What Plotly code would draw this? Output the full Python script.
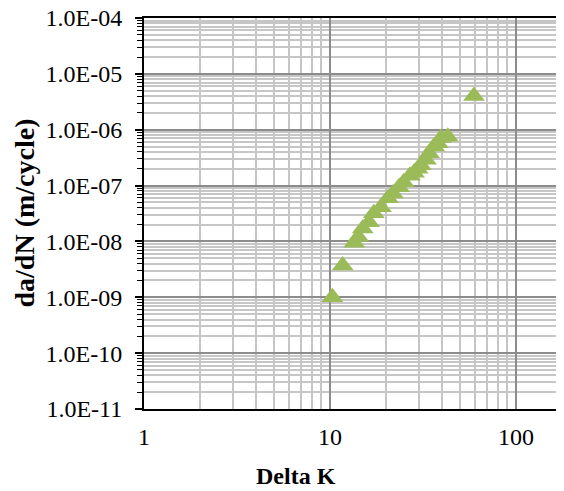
import plotly.graph_objects as go

delta_k = [10.3, 11.7, 13.5, 14.2, 15.0, 16.2, 17.2, 18.8, 20.5, 21.8, 23.5, 24.9,
           26.9, 28.3, 29.6, 30.8, 32.8, 34.1, 36.3, 38.0, 39.5, 43.0, 59.4]
dadn = [1.0e-9, 3.7e-9, 9.5e-9, 1.2e-8, 1.7e-8, 2.2e-8, 3.2e-8, 4.1e-8, 5.9e-8, 7.2e-8, 9.3e-8, 1.15e-7,
        1.5e-7, 1.7e-7, 2.0e-7, 2.3e-7, 2.9e-7, 3.8e-7, 5.0e-7, 5.7e-7, 7.1e-7, 7.5e-7, 4.0e-6]

y_tickvals = [1e-4, 1e-5, 1e-6, 1e-7, 1e-8, 1e-9, 1e-10, 1e-11]
y_ticktext = ["1.0E-04", "1.0E-05", "1.0E-06", "1.0E-07", "1.0E-08", "1.0E-09", "1.0E-10", "1.0E-11"]
x_tickvals = [1, 10, 100]
x_ticktext = ["1", "10", "100"]

W, H = 564, 491
OFF = 8  # page body margin
L, T = 144 - OFF, 18 - OFF
R = OFF
B = H - (409 - OFF)
PW = W - L - R
PH = H - T - B

fig = go.Figure()
fig.add_trace(go.Scatter(
    x=delta_k, y=dadn, mode="markers",
    marker=dict(symbol="triangle-up", size=19, color="#9bbb59", line=dict(width=0)),
    showlegend=False, cliponaxis=False,
))

font_family = "Liberation Serif"
fig.update_layout(
    width=W, height=H,
    margin=dict(l=L, r=R, t=T, b=B, autoexpand=False),
    paper_bgcolor="white", plot_bgcolor="white",
    font=dict(family=font_family, size=24, color="black"),
    xaxis=dict(
        type="log", range=[0, PW / 186.0], automargin=False,
        tickvals=x_tickvals, ticktext=x_ticktext,
        showgrid=True, gridcolor="#8c8c8c", gridwidth=1.5,
        minor=dict(showgrid=True, gridcolor="#c6c6c6", gridwidth=1.5, dtick="D1"),
        showline=True, linecolor="black", linewidth=2, mirror=True,
        ticks="", zeroline=False, ticklabelstandoff=5,
        ticklabeloverflow="allow",
        tickfont=dict(size=24, family=font_family),
    ),
    yaxis=dict(
        type="log", range=[-11, -4], automargin=False,
        tickvals=y_tickvals, ticktext=y_ticktext,
        showgrid=True, gridcolor="#8c8c8c", gridwidth=1.5,
        minor=dict(showgrid=True, gridcolor="#c6c6c6", gridwidth=1.5, dtick="D1",
                   ticks="outside", ticklen=5, tickcolor="black", tickwidth=1),
        showline=True, linecolor="black", linewidth=2,
        ticks="outside", ticklen=7, tickcolor="black", tickwidth=2,
        zeroline=False, ticklabelstandoff=8,
        ticklabeloverflow="allow",
        tickfont=dict(size=24, family=font_family),
    ),
    annotations=[
        dict(text="<b>Delta K</b>", xref="paper", yref="paper",
             x=(296 - OFF - L) / PW, y=-(476 - OFF - (H - B)) / PH,
             xanchor="center", yanchor="middle", showarrow=False,
             font=dict(size=24, family=font_family)),
        dict(text="<b>da/dN (m/cycle)</b>", xref="paper", yref="paper",
             x=-(L - (24 - OFF)) / PW, y=0.5, textangle=-90,
             xanchor="center", yanchor="middle", showarrow=False,
             font=dict(size=28, family=font_family)),
    ],
)

fig.write_html("out.html")
